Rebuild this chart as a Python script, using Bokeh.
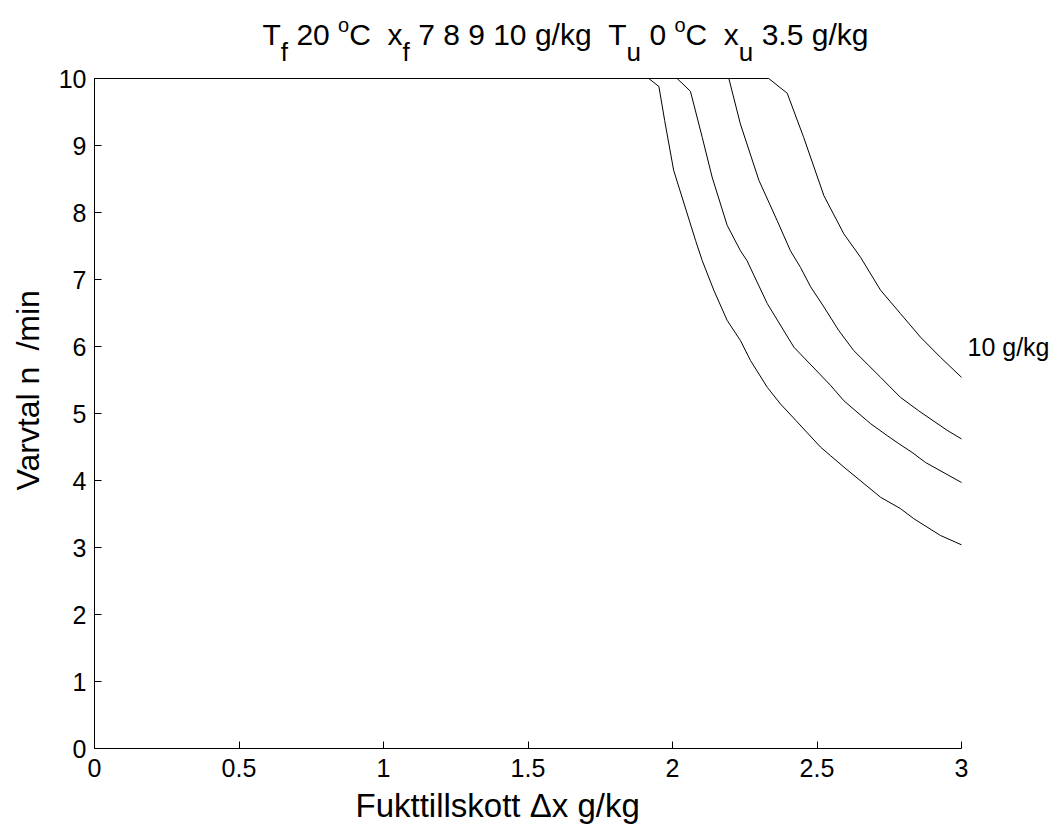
import math
from bokeh.plotting import figure
from bokeh.models import Range1d, FixedTicker, Label
from bokeh.embed import file_html
from bokeh.resources import INLINE

# ---- data ----
x_7 = [0.0, 1.918, 1.953, 1.973, 2.004, 2.080, 2.103, 2.143, 2.189, 2.235, 2.270, 2.328, 2.374, 2.426, 2.512, 2.547, 2.593, 2.720, 2.789, 2.835, 2.927, 3.0]
y_7 = [10.0, 10.0, 9.88, 9.37, 8.63, 7.58, 7.28, 6.84, 6.39, 6.09, 5.79, 5.39, 5.14, 4.90, 4.50, 4.37, 4.20, 3.75, 3.58, 3.43, 3.18, 3.04]

x_8 = [0.0, 2.016, 2.062, 2.103, 2.137, 2.189, 2.235, 2.258, 2.328, 2.420, 2.547, 2.593, 2.685, 2.743, 2.783, 2.829, 2.875, 3.0]
y_8 = [10.0, 10.0, 9.81, 9.12, 8.53, 7.81, 7.43, 7.28, 6.64, 5.99, 5.42, 5.19, 4.85, 4.67, 4.55, 4.42, 4.27, 3.97]

x_9 = [0.0, 2.195, 2.235, 2.299, 2.362, 2.408, 2.443, 2.478, 2.524, 2.575, 2.627, 2.720, 2.789, 2.852, 2.950, 3.0]
y_9 = [10.0, 10.0, 9.32, 8.48, 7.88, 7.43, 7.18, 6.89, 6.59, 6.24, 5.94, 5.54, 5.24, 5.04, 4.75, 4.62]

x_10 = [0.0, 2.333, 2.397, 2.454, 2.524, 2.593, 2.651, 2.720, 2.789, 2.858, 2.927, 3.0]
y_10 = [10.0, 10.0, 9.78, 9.12, 8.25, 7.68, 7.33, 6.84, 6.49, 6.14, 5.84, 5.54]

x_ticks = [0, 0.5, 1, 1.5, 2, 2.5, 3]
x_tick_labels = ["0", "0.5", "1", "1.5", "2", "2.5", "3"]
y_ticks = [0, 1, 2, 3, 4, 5, 6, 7, 8, 9, 10]
y_tick_labels = ["0", "1", "2", "3", "4", "5", "6", "7", "8", "9", "10"]

curve_label = "10 g/kg"
x_title = "Fukttillskott \u0394x g/kg"
y_title = "Varvtal n\u2002/min"

# title pieces: (text, kind, leading spaces) m = main, b = subscript, p = superscript
title_parts = [("T", "m", 0), ("f", "b", 0), ("20", "m", 1), ("o", "p", 1), ("C", "m", 0),
               ("x", "m", 2), ("f", "b", 0), ("7 8 9 10 g/kg", "m", 1),
               ("T", "m", 2), ("u", "b", 0), ("0", "m", 1), ("o", "p", 1), ("C", "m", 0),
               ("x", "m", 2), ("u", "b", 0), ("3.5 g/kg", "m", 1)]

FONT = "Liberation Sans"
TICK_FS = 25
LABEL_FS = 33
SIZES = {"m": 30, "b": 26, "p": 20}
YMID = {"m": 34, "b": 51, "p": 24}
TITLE_LEFT = 262

# page geometry (canvas px): whole canvas is the frame, axes are pinned at 0
W, H = 1056, 825
X0PX, X3PX = 94, 961       # pixel of x = 0 and x = 3
Y0PX, Y10PX = 748, 78      # pixel of y = 0 and y = 10
sx = (X3PX - X0PX) / 3.0
sy = (Y0PX - Y10PX) / 10.0

p = figure(width=W, height=H, output_backend="svg", toolbar_location=None,
           x_range=Range1d(-X0PX / sx, (W - X0PX) / sx),
           y_range=Range1d(-(H - Y0PX) / sy, Y0PX / sy),
           min_border=0)
p.outline_line_color = None
p.grid.visible = False
p.background_fill_color = "white"
p.border_fill_color = "white"

for xs, ys in [(x_7, y_7), (x_8, y_8), (x_9, y_9), (x_10, y_10)]:
    p.line(xs, ys, line_color="black", line_width=1)

for ax, ticks, labels, bnds in [(p.xaxis[0], x_ticks, x_tick_labels, (0, 3)),
                                (p.yaxis[0], y_ticks, y_tick_labels, (0, 10))]:
    ax.fixed_location = 0
    ax.ticker = FixedTicker(ticks=ticks)
    ax.bounds = bnds
    ax.major_label_overrides = {t: l for t, l in zip(ticks, labels)}
    ax.minor_tick_line_color = None
    ax.major_tick_in = 7
    ax.major_tick_out = 0
    ax.axis_line_color = "black"
    ax.major_tick_line_color = "black"
    ax.major_label_text_font = FONT
    ax.major_label_text_font_size = f"{TICK_FS}px"
    ax.major_label_text_color = "black"

p.xaxis.major_label_standoff = 10
p.yaxis.major_label_standoff = 8

def dx(px):
    return (px - X0PX) / sx

def dy(py):
    return (Y0PX - py) / sy

# axis titles
p.add_layout(Label(x=dx(355), y=dy(805), text=x_title, text_font=FONT, text_font_size=f"{LABEL_FS}px",
                   text_baseline="middle", text_align="left", text_color="black"))
p.add_layout(Label(x=dx(27), y=dy(490), text=y_title, angle=math.pi / 2, text_font=FONT,
                   text_font_size=f"{LABEL_FS - 1}px", text_baseline="middle", text_align="left",
                   text_color="black"))

# curve label
p.add_layout(Label(x=dx(967), y=dy(346), text=curve_label, text_font=FONT, text_font_size=f"{TICK_FS}px",
                   text_baseline="middle", text_align="left", text_color="black"))

# title laid out with Arial/Liberation advance widths
ADV = {" ": 278, "0": 556, "1": 556, "2": 556, "3": 556, "5": 556, "7": 556, "8": 556, "9": 556,
       ".": 278, "/": 278, "g": 556, "k": 500, "T": 611, "C": 722, "x": 500, "f": 278, "u": 556, "o": 556}

def width(s, fs):
    return sum(ADV.get(c, 556) for c in s) / 1000.0 * fs

x0 = TITLE_LEFT
for t, k, lead in title_parts:
    x0 += width(" " * lead, SIZES["m"])
    p.add_layout(Label(x=dx(x0), y=dy(YMID[k]), text=t, text_font=FONT,
                       text_font_size=f"{SIZES[k]}px", text_baseline="middle",
                       text_align="left", text_color="black"))
    x0 += width(t, SIZES[k])

open("out.html", "w").write(file_html(p, INLINE))
